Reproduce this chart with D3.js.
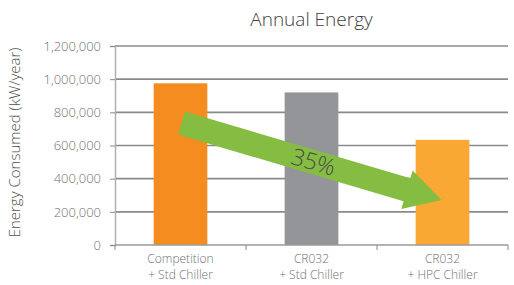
<!DOCTYPE html>
<html>
<head>
<meta charset="utf-8">
<script src="https://cdn.jsdelivr.net/npm/d3@7"></script>
<style>
  body { margin: 0; background: #fff; }
  svg text { font-family: "Open Sans", sans-serif; font-weight: 300; }
</style>
</head>
<body>
<svg id="chart"></svg>
<script>
const categories = [["Competition", "+ Std Chiller"], ["CR032", "+ Std Chiller"], ["CR032", "+ HPC Chiller"]];
const values = [975000, 920000, 634000];
const colors = ["#f48c1f", "#939598", "#f9a834"];
const yTicks = [0, 200000, 400000, 600000, 800000, 1000000, 1200000];
const savingLabel = "35%";

const W = 514, H = 285;
const margin = { top: 46, right: 6, bottom: 40, left: 115 };
const width = W - margin.left - margin.right,
      height = H - margin.top - margin.bottom;

const svg = d3.select("#chart").attr("width", W).attr("height", H);
const g = svg.append("g").attr("transform", `translate(${margin.left},${margin.top})`);

const keys = categories.map((c, i) => i);
const x = d3.scaleBand().domain(keys).range([0, width]).padding(0);
const y = d3.scaleLinear().domain([0, 1200000]).range([height, 0]);
const barW = x.bandwidth() * 0.41;

// gridlines
g.selectAll(".grid")
  .data(yTicks.filter(d => d > 0))
  .enter().append("line")
  .attr("x1", 0).attr("x2", width)
  .attr("y1", d => y(d)).attr("y2", d => y(d))
  .attr("stroke", "#8a8a8a").attr("stroke-width", 1.6);

// bars
g.selectAll(".bar")
  .data(values)
  .enter().append("rect")
  .attr("x", (d, i) => x(i) + x.bandwidth() / 2 - barW / 2)
  .attr("width", barW)
  .attr("y", d => y(d))
  .attr("height", d => height - y(d))
  .attr("fill", (d, i) => colors[i]);

// y axis
const yAxis = g.append("g")
  .call(d3.axisLeft(y).tickValues(yTicks).tickSize(5).tickPadding(9).tickFormat(d3.format(",")));
yAxis.select(".domain").attr("stroke", "#b0b0b0").attr("stroke-width", 1.5);
yAxis.selectAll(".tick line").attr("stroke", "#8a8a8a");
yAxis.selectAll("text").attr("fill", "#707070").style("font-size", "13px");

// x axis
const xAxisG = g.append("g").attr("transform", `translate(0,${height})`);
xAxisG.append("line").attr("x1", 0).attr("x2", width).attr("stroke", "#9a9a9a").attr("stroke-width", 1.5);
xAxisG.selectAll(".xt")
  .data(d3.range(categories.length + 1))
  .enter().append("line")
  .attr("x1", d => d * x.step()).attr("x2", d => d * x.step())
  .attr("y1", 0).attr("y2", 5)
  .attr("stroke", "#8a8a8a");
categories.forEach((lines, i) => {
  lines.forEach((t, j) => {
    xAxisG.append("text")
      .attr("x", x(i) + x.bandwidth() / 2)
      .attr("y", 18 + j * 16)
      .attr("text-anchor", "middle")
      .attr("fill", "#707070")
      .style("font-size", "12px")
      .text(t);
  });
});

// arrow annotation
const x0 = x(0) + x.bandwidth() / 2 + 1, y0 = y(735000);
const x1 = x(2) + x.bandwidth() / 2 - 1, y1 = y(272000);
const ang = Math.atan2(y1 - y0, x1 - x0);
const len = Math.hypot(x1 - x0, y1 - y0);
const aw = 12, hw = 20, hl = 36;
const arrow = g.append("g").attr("transform", `translate(${x0},${y0}) rotate(${ang * 180 / Math.PI})`);
arrow.append("path")
  .attr("d", `M0,${-aw} L${len - hl},${-aw} L${len - hl},${-hw} L${len},0 L${len - hl},${hw} L${len - hl},${aw} L0,${aw} Z`)
  .attr("fill", "#84bd41");
arrow.append("text")
  .attr("x", len * 0.5 + 2).attr("y", 8)
  .attr("text-anchor", "middle")
  .attr("fill", "#4a4a4a")
  .style("font-size", "23px")
  .text(savingLabel);

// title
svg.append("text")
  .attr("x", margin.left + width / 2).attr("y", 26)
  .attr("text-anchor", "middle")
  .attr("fill", "#404040")
  .style("font-size", "19px")
  .text("Annual Energy");

// y label
svg.append("text")
  .attr("transform", `translate(20,${margin.top + height / 2 - 3}) rotate(-90)`)
  .attr("text-anchor", "middle")
  .attr("fill", "#505050")
  .style("font-size", "15px")
  .text("Energy Consumed (kW/year)");
</script>
</body>
</html>
